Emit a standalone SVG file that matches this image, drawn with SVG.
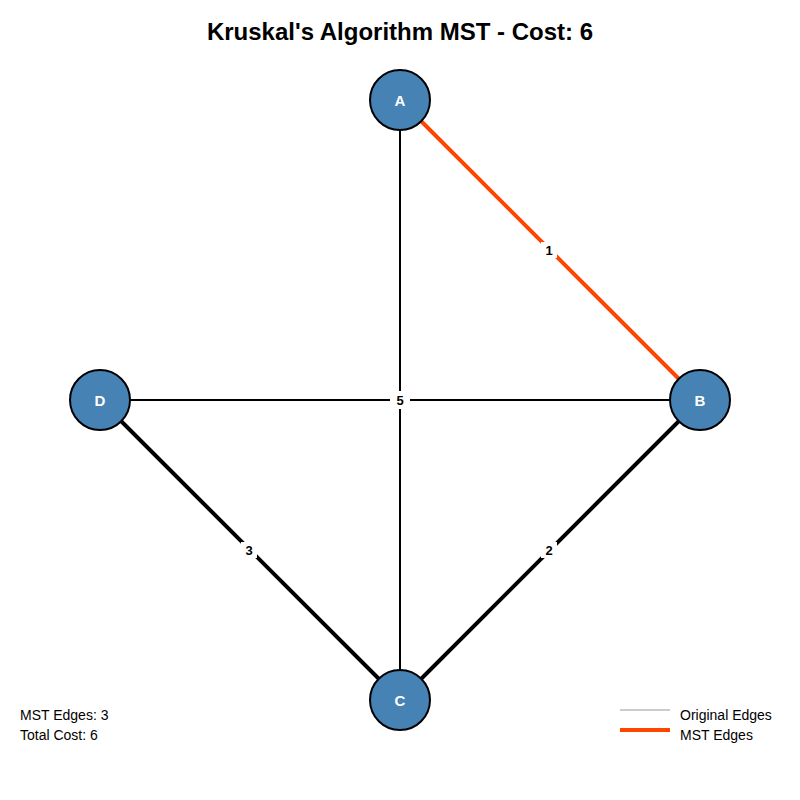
<svg xmlns="http://www.w3.org/2000/svg" width="800" height="800" viewBox="0 0 800 800">
<style>
text{font-family:"Liberation Sans",Arial,sans-serif}
.title{font-size:24px;font-weight:bold;fill:#000}
.node circle{fill:#4682B4;stroke:#000;stroke-width:2}
.node text{font-size:15px;font-weight:bold;fill:#fff;text-anchor:middle}
.edge{stroke:#000;stroke-linecap:butt}
.thin{stroke-width:2}
.mst{stroke-width:4}
.orange{stroke:#FF4500}
.lbl rect{fill:#fff}
.lbl text{font-size:13px;font-weight:bold;text-anchor:middle;fill:#000}
.info{font-size:14px;fill:#000}
</style>
<rect width="800" height="800" fill="#fff"/>
<text class="title" x="400" y="40" text-anchor="middle">Kruskal's Algorithm MST - Cost: 6</text>
<g id="connectors">
<line class="edge thin" x1="400" y1="100" x2="400" y2="700"/>
<line class="edge thin" x1="100" y1="400" x2="700" y2="400"/>
<line class="edge mst orange" x1="400" y1="100" x2="700" y2="400"/>
<line class="edge mst" x1="700" y1="400" x2="400" y2="700"/>
<line class="edge mst" x1="100" y1="400" x2="400" y2="700"/>
</g>
<g id="edge-labels">
<g class="lbl"><rect x="390" y="391" width="20" height="18"/><text x="400" y="405">5</text></g>
<g class="lbl"><rect x="541" y="242" width="16" height="16"/><text x="549" y="255">1</text></g>
<g class="lbl"><rect x="541" y="542" width="16" height="16"/><text x="549" y="555">2</text></g>
<g class="lbl"><rect x="241" y="542" width="16" height="16"/><text x="249" y="555">3</text></g>
</g>
<g id="node-A" class="node"><circle cx="400" cy="100" r="30"/><text x="400" y="106">A</text></g>
<g id="node-B" class="node"><circle cx="700" cy="400" r="30"/><text x="700" y="406">B</text></g>
<g id="node-C" class="node"><circle cx="400" cy="700" r="30"/><text x="400" y="706">C</text></g>
<g id="node-D" class="node"><circle cx="100" cy="400" r="30"/><text x="100" y="406">D</text></g>
<g id="info">
<text class="info" x="20" y="720">MST Edges: 3</text>
<text class="info" x="20" y="740">Total Cost: 6</text>
</g>
<g id="legend">
<line x1="620" y1="710" x2="670" y2="710" stroke="#ccc" stroke-width="2"/>
<line x1="620" y1="730" x2="670" y2="730" stroke="#FF4500" stroke-width="4"/>
<text class="info" x="680" y="720">Original Edges</text>
<text class="info" x="680" y="740">MST Edges</text>
</g>
</svg>
